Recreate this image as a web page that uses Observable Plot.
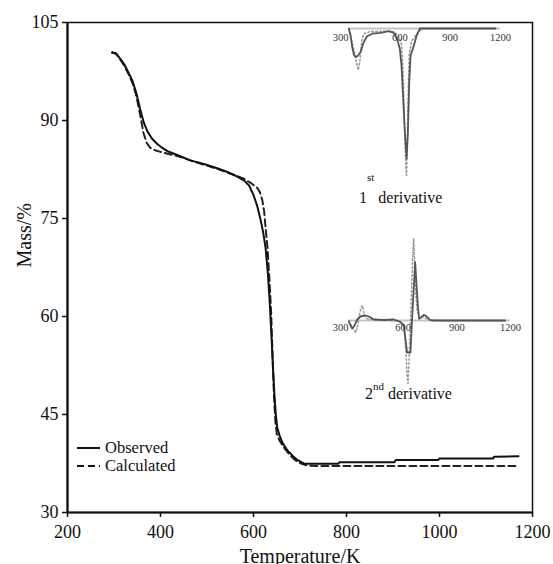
<!DOCTYPE html>
<html><head><meta charset="utf-8">
<script src="https://cdn.jsdelivr.net/npm/d3@7"></script>
<script src="https://cdn.jsdelivr.net/npm/@observablehq/plot@0.6"></script>
<style>
html,body{margin:0;padding:0;background:#fff;}
#wrap{position:relative;width:553px;height:564px;overflow:hidden;font-family:"Liberation Serif","Times New Roman",serif;}
#wrap svg{position:absolute;left:0;top:0;font-family:"Liberation Serif","Times New Roman",serif !important;}
#wrap svg text{font-family:"Liberation Serif","Times New Roman",serif;}
</style></head><body><div id="wrap"></div>
<script>
// ---------- main chart data (Temperature K, Mass %) ----------
const obsT = [296,304,312,322,332,340,348,356,364,372,382,393,404,415,440,464,495,522,545,565,580,590,600,608,615,621,626,631,635,639,642,645,648,651,656,662,673,685,695,708,720,782,785,903,906,997,1000,1115,1118,1170];
const obsM = [100.4,100.3,99.6,98.6,97.2,96.0,94.2,91.8,89.7,88.3,87.2,86.4,85.8,85.3,84.6,83.9,83.3,82.7,82.1,81.4,80.8,80.1,78.6,76.9,74.9,72.8,70.5,66.5,62.0,56.5,52.0,48.0,45.0,43.0,41.8,40.7,39.5,38.6,38.0,37.5,37.45,37.45,37.7,37.7,38.05,38.05,38.25,38.25,38.55,38.6];
const calcT = [296,304,312,322,332,340,348,356,363,370,378,390,400,415,440,464,495,522,545,565,579,595,608,614,619,623,626,630,634,638,641,644,647,650,656,665,678,690,702,715,740,1170];
const calcM = [100.4,100.2,99.5,98.4,97.0,95.7,93.8,91.0,88.2,86.6,85.8,85.4,85.2,84.9,84.5,83.9,83.2,82.6,82.0,81.5,81.1,80.4,79.7,79.0,77.8,76.0,73.6,70.6,66.0,60.5,54.0,48.0,44.0,42.0,41.0,40.0,38.8,38.0,37.5,37.2,37.1,37.1];
const xTicks = [200,400,600,800,1000,1200];
const yTicks = [30,45,60,75,90,105];

// ---------- inset 1: first derivative ----------
const d1ObsT = [296,306,316,326,336,350,366,385,405,435,485,534,564,584,600,610,620,630,640,648,656,664,684,700,720,1170];
const d1ObsV = [0,-0.05,-0.14,-0.20,-0.22,-0.21,-0.18,-0.105,-0.06,-0.04,-0.033,-0.02,-0.033,-0.08,-0.156,-0.285,-0.54,-0.80,-1.0,-0.80,-0.41,-0.21,-0.13,-0.054,0,0];
const d1CalcT = [296,310,325,340,352,362,372,385,420,500,560,590,610,620,628,635,640,645,650,656,670,690,715,740,1170];
const d1CalcV = [0,-0.08,-0.16,-0.25,-0.32,-0.25,-0.10,-0.04,-0.025,-0.02,-0.025,-0.05,-0.12,-0.35,-0.75,-1.05,-1.13,-0.90,-0.50,-0.20,-0.10,-0.06,-0.02,0,0];

// ---------- inset 2: second derivative ----------
const d2ObsT = [296,306,315,328,343,361,386,408,436,492,548,581,604,615,622,641,648,656,667,674,682,689,700,715,730,749,770,1170];
const d2ObsV = [-0.01,-0.05,-0.08,-0.05,0.01,0.04,0.05,0.04,0.01,0.005,0.01,-0.01,-0.05,-0.22,-0.32,-0.32,-0.05,0.22,0.58,0.38,0.15,0.017,0.03,0.057,0.043,0.007,0,0];
const d2CalcT = [296,310,325,335,345,355,365,372,380,395,420,500,580,605,615,622,627,633,640,648,655,659,664,670,678,690,710,730,760,1170];
const d2CalcV = [0,-0.05,-0.10,-0.12,-0.05,0.05,0.13,0.15,0.08,0.02,0.01,0.005,-0.01,-0.06,-0.30,-0.55,-0.63,-0.40,-0.05,0.35,0.70,0.82,0.60,0.30,0.10,0.03,0.04,0.02,0,0];
const insetTicks = [300,600,900,1200];

const legendLabels = ["Observed","Calculated"];

const zip = (a,b) => a.map((t,i)=>({T:t, v:b[i]}));
const obs = zip(obsT, obsM), calc = zip(calcT, calcM);
const font = '"Liberation Serif", "Times New Roman", serif';

const main = Plot.plot({
  width:553, height:564, marginLeft:67, marginRight:21, marginTop:22, marginBottom:52,
  style:{fontFamily:font, fontSize:"18px", color:"#111", background:"transparent"},
  x:{domain:[200,1200]}, y:{domain:[30,105]},
  marks:[
    Plot.frame({stroke:"#111", strokeWidth:1.5}),
    Plot.axisX(xTicks, {tickSize:5, tickPadding:8, label:null, fontSize:18, strokeWidth:1.5, tickFormat:d=>String(d)}),
    Plot.axisY(yTicks, {tickSize:5, tickPadding:4, label:null, fontSize:18, strokeWidth:1.5, tickFormat:d=>String(d)}),
    Plot.ruleX([200], {stroke:"#111", strokeWidth:2.2}),
    Plot.ruleY([30], {stroke:"#111", strokeWidth:2.2}),
    Plot.line(calc, {x:"T", y:"v", stroke:"#222", strokeWidth:2, strokeDasharray:"7,4"}),
    Plot.line(obs, {x:"T", y:"v", stroke:"#111", strokeWidth:2}),
    Plot.text(["Temperature/K"], {frameAnchor:"bottom", dy:50, lineAnchor:"bottom", fontSize:20, fill:"#111"}),
    Plot.text(["Mass/%"], {frameAnchor:"left", dx:-37, rotate:-90, lineAnchor:"bottom", fontSize:20, fill:"#111"})
  ]
});

function inset(xr, yr, oT, oV, cT, cV, labDy) {
  return Plot.plot({
    width:553, height:564,
    style:{fontFamily:font, background:"transparent", overflow:"visible"},
    x:{domain:[300,1200], range:xr, axis:null},
    y:{domain:[0,-1], range:yr, axis:null},
    marks:[
      Plot.ruleY([0], {x1:300, x2:1200, stroke:"#c4c4c4", strokeWidth:2}),
      Plot.line(zip(cT,cV), {x:"T", y:"v", stroke:"#9a9a9a", strokeWidth:1.6, strokeDasharray:"1.5,2.5"}),
      Plot.line(zip(oT,oV), {x:"T", y:"v", stroke:"#555", strokeWidth:1.8}),
      Plot.text(insetTicks.slice(0,1), {x:d=>d, y:0, dy:labDy, dx:-1, textAnchor:"end", text:d=>String(d), fontSize:10.5, fill:"#333"}),
      Plot.text(insetTicks.slice(1), {x:d=>d, y:0, dy:labDy, text:d=>String(d), fontSize:10.5, fill:"#333"})
    ]
  });
}
const in1 = inset([349,500],[28,158], d1ObsT, d1ObsV, d1CalcT, d1CalcV, 9);
const in2 = inset([349,510],[320,420], d2ObsT, d2ObsV, d2CalcT, d2CalcV, 7);

const wrap = document.getElementById("wrap");
wrap.appendChild(main); wrap.appendChild(in1); wrap.appendChild(in2);

// derivative labels with superscripts
function supLabel(svg, x, y, base, sup, shift) {
  const t = d3.select(svg).append("text").attr("x", x).attr("y", y)
    .attr("text-anchor","start")
    .style("font-family", font).attr("font-size", 16).attr("fill", "#111");
  t.append("tspan").text(base);
  t.append("tspan").attr("font-size", 11).attr("dy", -shift).text(sup);
  t.append("tspan").attr("dy", shift).text(" derivative");
}
supLabel(in1, 359, 203, "1", "st", 22);
supLabel(in2, 365, 399, "2", "nd", 9);

// legend
const lg = d3.select(main).append("g").attr("text-anchor","start")
  .style("font-family", font).attr("font-size", 16.5).attr("fill","#111");
[[448, null],[466, "7,4"]].forEach(([y,dash],i)=>{
  const l = lg.append("line").attr("x1",77).attr("x2",100).attr("y1",y).attr("y2",y)
    .attr("stroke","#111").attr("stroke-width",2);
  if (dash) l.attr("stroke-dasharray", dash);
  lg.append("text").attr("x",105).attr("y",y+5).text(legendLabels[i]);
});
</script></body></html>
